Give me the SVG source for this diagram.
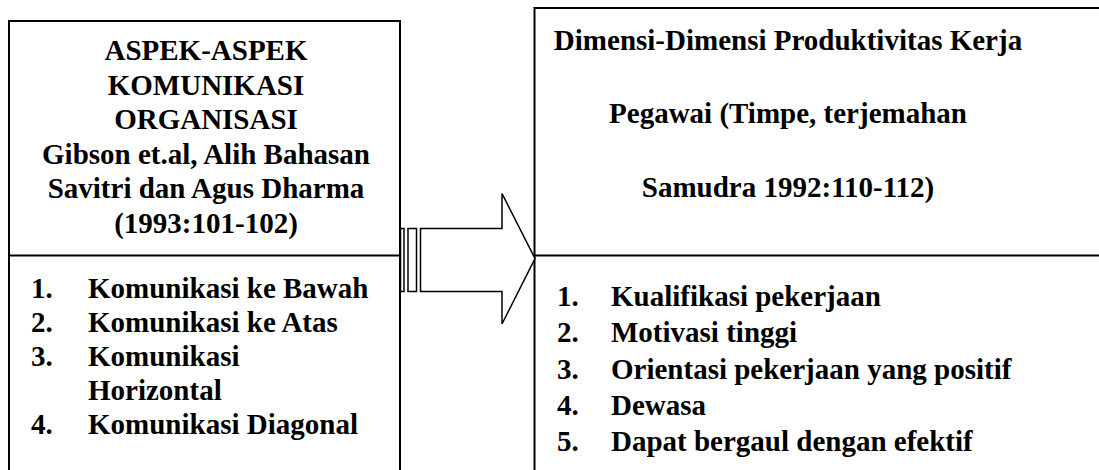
<svg xmlns="http://www.w3.org/2000/svg" width="1099" height="470" viewBox="0 0 1099 470">
  <style>
    .frame { fill: none; stroke: #000; stroke-width: 2; }
    .arrow { fill: #fff; stroke: #000; stroke-width: 1.5; stroke-linejoin: miter; }
    text { font-family: "Liberation Serif", "Times New Roman", serif; font-weight: bold; font-size: 29px; fill: #000; }
    .c { text-anchor: middle; }
  </style>
  <rect x="0" y="0" width="1099" height="470" fill="#fff"/>

  <!-- Left box: communication aspects -->
  <g id="aspek-komunikasi">
    <path class="frame" d="M9,470 V21 H400 V470 M9,255.5 H400"/>
    <text class="c" x="206" y="60">ASPEK-ASPEK</text>
    <text class="c" x="206" y="94.5">KOMUNIKASI</text>
    <text class="c" x="206" y="129">ORGANISASI</text>
    <text class="c" x="206" y="163.5">Gibson et.al, Alih Bahasan</text>
    <text class="c" x="206" y="198">Savitri dan Agus Dharma</text>
    <text class="c" x="206" y="232.5">(1993:101-102)</text>
    <text x="31" y="298">1.</text><text x="88" y="298">Komunikasi ke Bawah</text>
    <text x="31" y="332">2.</text><text x="88" y="332">Komunikasi ke Atas</text>
    <text x="31" y="366">3.</text><text x="88" y="366">Komunikasi</text>
    <text x="88" y="400">Horizontal</text>
    <text x="31" y="434">4.</text><text x="88" y="434">Komunikasi Diagonal</text>
  </g>

  <!-- Right box: work productivity dimensions -->
  <g id="dimensi-produktivitas">
    <path class="frame" d="M534.5,470 V8 H1100 M534.5,255.5 H1100"/>
    <text class="c" x="788" y="50">Dimensi-Dimensi Produktivitas Kerja</text>
    <text class="c" x="788" y="123">Pegawai (Timpe, terjemahan</text>
    <text class="c" x="788" y="197">Samudra 1992:110-112)</text>
    <text x="557" y="306">1.</text><text x="611" y="306">Kualifikasi pekerjaan</text>
    <text x="557" y="342">2.</text><text x="611" y="342">Motivasi tinggi</text>
    <text x="557" y="378.5">3.</text><text x="611" y="378.5">Orientasi pekerjaan yang positif</text>
    <text x="557" y="415">4.</text><text x="611" y="415">Dewasa</text>
    <text x="557" y="451">5.</text><text x="611" y="451">Dapat bergaul dengan efektif</text>
  </g>

  <!-- Striped block arrow between the two boxes -->
  <g id="connectors">
    <rect class="arrow" x="400.5" y="228.5" width="3.5" height="63"/>
    <rect class="arrow" x="408" y="228.5" width="8.5" height="63"/>
    <polygon class="arrow" points="420.5,228.5 502,228.5 502,193.5 535,258.5 502,324 502,291.5 420.5,291.5"/>
  </g>
</svg>
